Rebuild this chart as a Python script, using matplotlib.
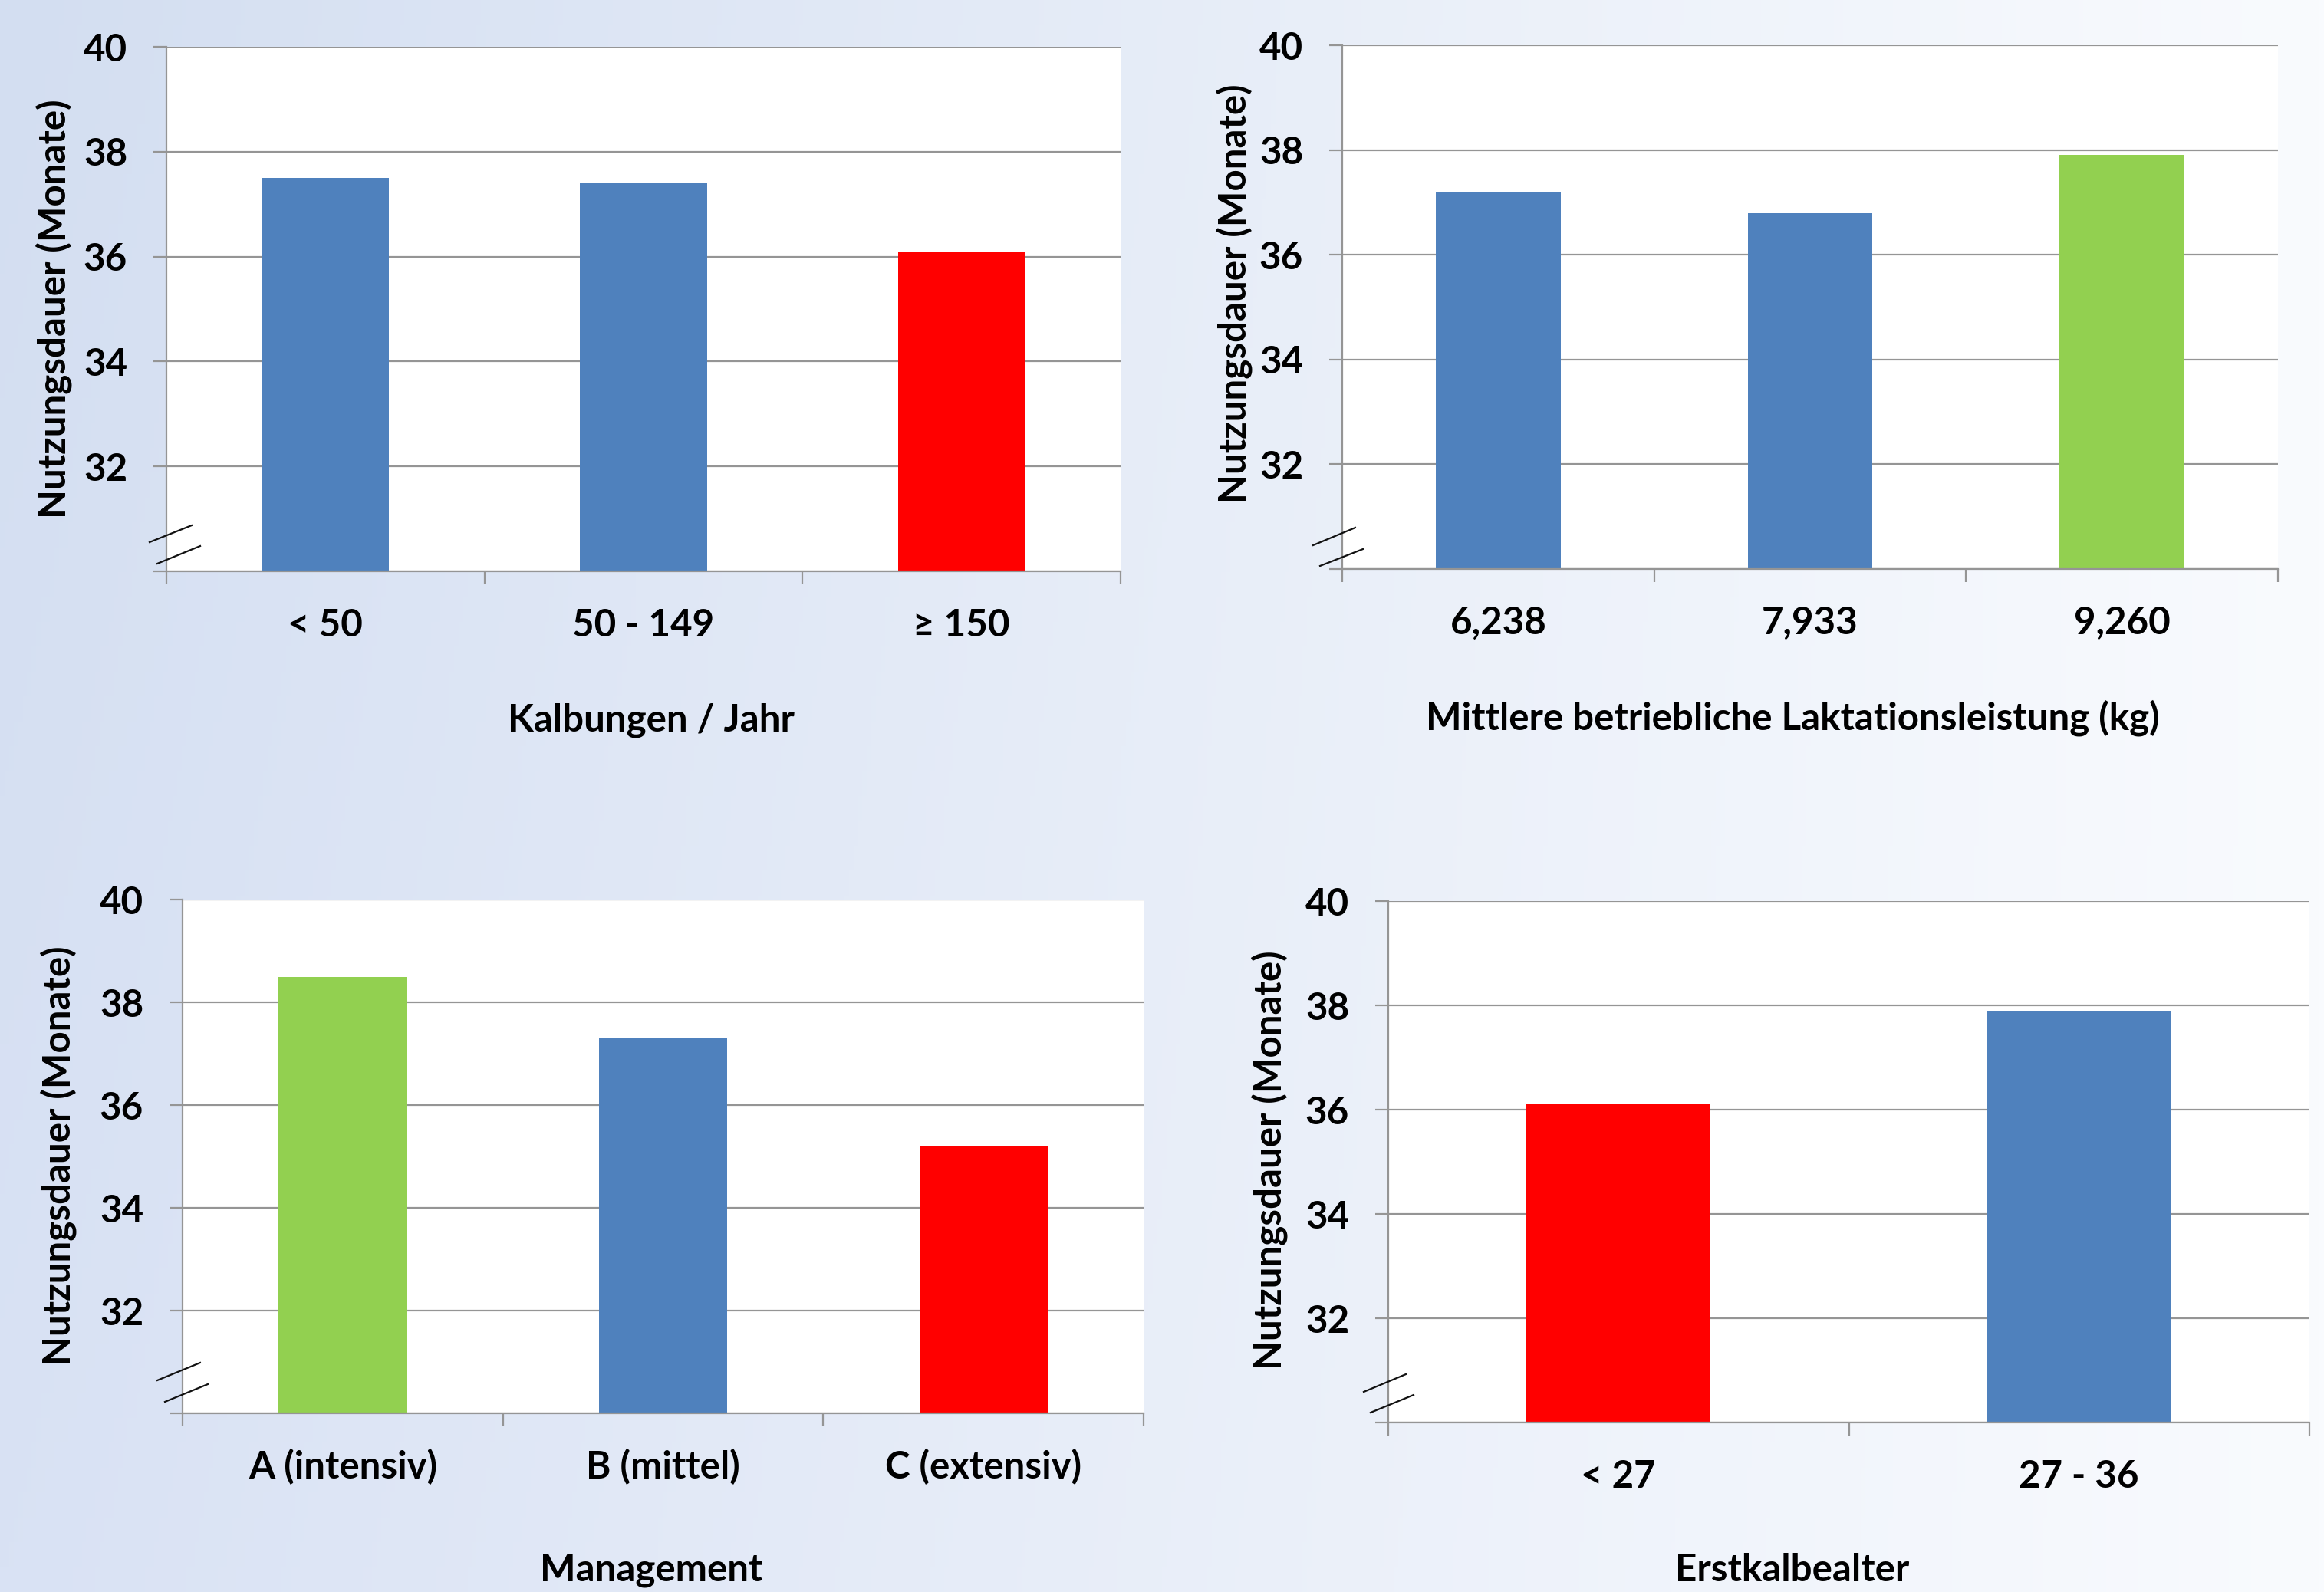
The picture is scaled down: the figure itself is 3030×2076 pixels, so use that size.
import numpy as np
import matplotlib
matplotlib.use("Agg")
import matplotlib.pyplot as plt
import matplotlib.transforms as mtransforms

plt.rcParams['font.family'] = ['Lato', 'DejaVu Sans']
plt.rcParams['font.weight'] = 'bold'

W, H, DPI = 3030, 2076, 100

BLUE = '#4f81bd'
RED = '#ff0000'
GREEN = '#92d050'
AXIS_GREY = '#959595'

y_label = "Nutzungsdauer (Monate)"
y_ticks = [30, 32, 34, 36, 38, 40]

kalb_labels = ["< 50", "50 - 149", "≥ 150"]
kalb_values = [37.5, 37.4, 36.1]
kalb_colors = [BLUE, BLUE, RED]

milk_labels = ["6,238", "7,933", "9,260"]
milk_values = [37.2, 36.8, 37.9]
milk_colors = [BLUE, BLUE, GREEN]

mgmt_labels = ["A (intensiv)", "B (mittel)", "C (extensiv)"]
mgmt_values = [38.5, 37.3, 35.2]
mgmt_colors = [GREEN, BLUE, RED]

eka_labels = ["< 27", "27 - 36"]
eka_values = [36.1, 37.9]
eka_colors = [RED, BLUE]

FS = 35.5


def px_rect(left, top, right, bottom):
    return [left / W, 1 - bottom / H, (right - left) / W, (bottom - top) / H]


def draw_panel(fig, rect, labels, values, colors, title, title_xy, ylab_xy, breaks):
    ax = fig.add_axes(px_rect(*rect))
    n = len(labels)
    x = np.arange(n) + 0.5
    ax.bar(x, values, width=0.4, color=colors, zorder=3)
    ax.set_xlim(0, n)
    ax.set_ylim(30, 40)
    ax.set_facecolor('white')

    ax.set_yticks(y_ticks)
    ax.set_yticklabels([""] + [str(t) for t in y_ticks[1:]])
    ax.set_xticks(np.arange(n + 1))
    ax.set_xticklabels([])
    ax.tick_params(axis='both', direction='out', length=12.2, width=1.6,
                   color=AXIS_GREY)
    ax.tick_params(axis='y', pad=24.5, labelsize=FS)
    ax.grid(axis='y', color=AXIS_GREY, linewidth=1.6, zorder=1)
    ax.set_axisbelow(True)
    for side in ['top', 'right']:
        ax.spines[side].set_visible(False)
    for side in ['left', 'bottom']:
        ax.spines[side].set_color(AXIS_GREY)
        ax.spines[side].set_linewidth(1.6)
        ax.spines[side].set_zorder(4)

    # category labels under each bar
    for xi, lab in zip(x, labels):
        ax.annotate(lab, xy=(xi, 0), xycoords=('data', 'axes fraction'),
                    xytext=(0, -85 * 0.72), textcoords='offset points',
                    ha='center', va='baseline', fontsize=FS, fontweight='bold')

    # axis break marks near the bottom of the y axis
    trans = fig.dpi_scale_trans + mtransforms.ScaledTranslation(0, 0, ax.transAxes)
    for (x0, y0, x1, y1) in breaks:
        ax.plot([x0 / DPI, x1 / DPI], [y0 / DPI, y1 / DPI], color='#111111',
                lw=1.6, transform=trans, clip_on=False, zorder=6)

    fig.text(title_xy[0] / W, 1 - title_xy[1] / H, title, ha='center',
             va='baseline', fontsize=FS, fontweight='bold')
    fig.text(ylab_xy[0] / W, 1 - ylab_xy[1] / H, y_label, rotation=90,
             ha='center', va='center', fontsize=FS, fontweight='bold')
    return ax


fig = plt.figure(figsize=(W / DPI, H / DPI), dpi=DPI)

# soft blue-to-white background
bg = fig.add_axes([0, 0, 1, 1])
gx = np.linspace(0, 1, 512)[None, :, None]
gy = np.linspace(0, 1, 64)[:, None, None]
left_top = np.array([0xd3, 0xde, 0xf1]) / 255
left_bot = np.array([0xd9, 0xe2, 0xf4]) / 255
right = np.array([0xf9, 0xfb, 0xfe]) / 255
left = left_top + (left_bot - left_top) * gy
grad = left + (right - left) * gx
bg.imshow(grad, aspect='auto', extent=[0, 1, 0, 1], origin='upper')
bg.axis('off')

draw_panel(fig, (217, 61, 1461, 745), kalb_labels, kalb_values, kalb_colors,
           "Kalbungen / Jahr", (849, 953), (70, 403),
           [(-22, 38, 33, 60), (-12, 10, 44, 33)])
draw_panel(fig, (1750, 59, 2970, 742), milk_labels, milk_values, milk_colors,
           "Mittlere betriebliche Laktationsleistung (kg)", (2337, 952),
           (1609, 383),
           [(-38, 31, 17, 54), (-29, 4, 27, 26)])
draw_panel(fig, (238, 1173, 1491, 1843), mgmt_labels, mgmt_values, mgmt_colors,
           "Management", (849, 2062), (76, 1507),
           [(-33, 43, 23, 66), (-23, 15, 33, 38)])
draw_panel(fig, (1810, 1175, 3011, 1855), eka_labels, eka_values, eka_colors,
           "Erstkalbealter", (2337, 2062), (1655, 1513),
           [(-32, 40, 23, 63), (-23, 13, 33, 36)])

fig.savefig("out.png", dpi=DPI)
